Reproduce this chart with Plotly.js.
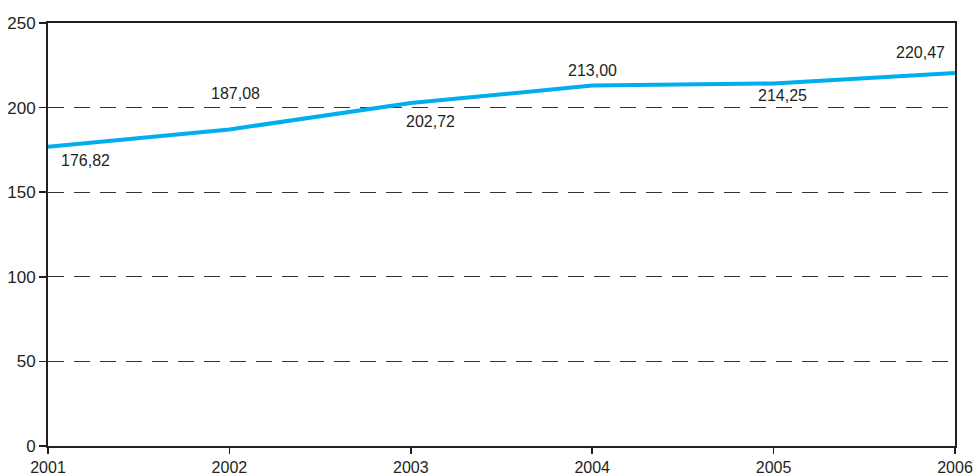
<!DOCTYPE html>
<html>
<head>
<meta charset="utf-8">
<script src="https://cdn.plot.ly/plotly-3.0.1.min.js"></script>
<style>html,body{margin:0;padding:0;background:#fff;}#chart{width:976px;height:476px;}</style>
</head>
<body>
<div id="chart"></div>
<script>
const years = [2001, 2002, 2003, 2004, 2005, 2006];
const values = [176.82, 187.08, 202.72, 213.00, 214.25, 220.47];
const labels = ["176,82", "187,08", "202,72", "213,00", "214,25", "220,47"];
const yTicks = [0, 50, 100, 150, 200, 250];

const labelShiftX = [37, 6, 20, 0, 9, -35];
const labelShiftY = [-14, 36, -18, 15, -12, 20];

const ink = '#231f20';
const font = {family: 'Liberation Sans, Arial, Helvetica, sans-serif', size: 16, color: ink};
const tickFont = {family: 'Liberation Sans, Arial, Helvetica, sans-serif', size: 17, color: ink};
const xTickFont = {family: 'Liberation Sans, Arial, Helvetica, sans-serif', size: 16, color: ink};

const annotations = years.map((y, i) => ({
  x: y, y: values[i], xref: 'x', yref: 'y', text: labels[i],
  showarrow: false, xshift: labelShiftX[i], yshift: labelShiftY[i],
  font: font, xanchor: 'center', yanchor: 'middle'
}));

const trace = {
  x: years, y: values, type: 'scatter', mode: 'lines',
  line: {color: '#00aeef', width: 4}, hoverinfo: 'skip', cliponaxis: false
};

const layout = {
  width: 976, height: 476,
  margin: {l: 48, r: 21, t: 23, b: 30},
  paper_bgcolor: '#fff', plot_bgcolor: '#fff',
  showlegend: false,
  font: font,
  xaxis: {
    range: [2001, 2006], tickvals: years, ticktext: years.map(String),
    showgrid: false, zeroline: false,
    showline: true, linecolor: ink, linewidth: 2, mirror: true,
    ticks: 'outside', ticklen: 6, tickwidth: 1.5, tickcolor: ink,
    ticklabelstandoff: 0,
    tickfont: xTickFont
  },
  yaxis: {
    range: [0, 250], tickvals: yTicks,
    showgrid: true, gridcolor: '#333', gridwidth: 1, griddash: '16px,10px',
    zeroline: false,
    showline: true, linecolor: ink, linewidth: 2, mirror: true,
    ticks: 'outside', ticklen: 7, tickwidth: 1.5, tickcolor: ink,
    tickfont: tickFont
  },
  annotations: annotations
};

Plotly.newPlot('chart', [trace], layout, {displayModeBar: false, staticPlot: true});
</script>
</body>
</html>
